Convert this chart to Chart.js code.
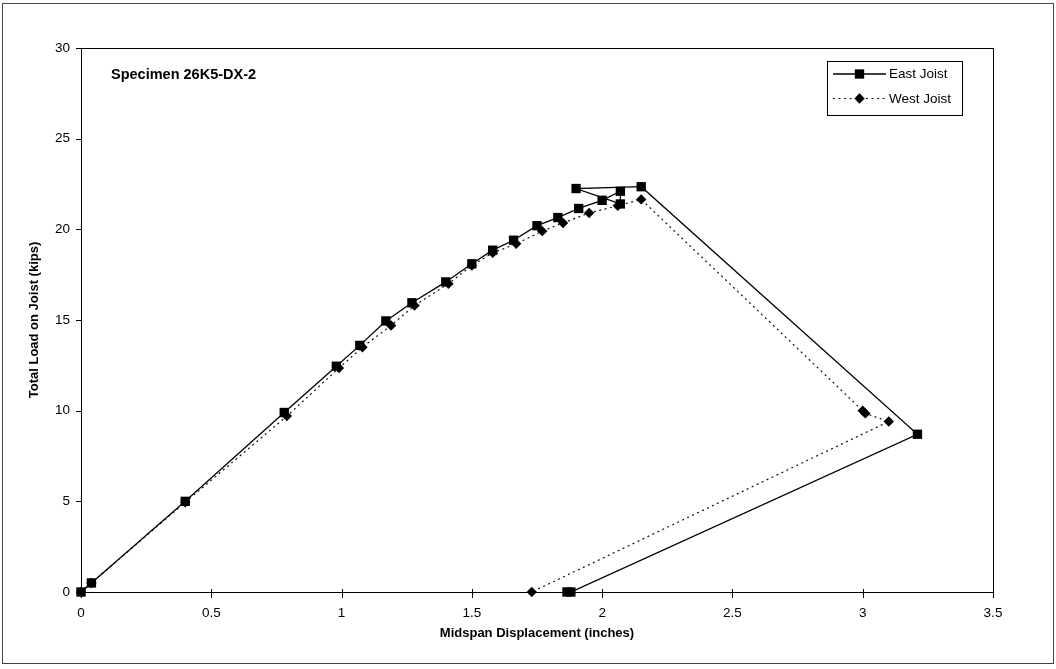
<!DOCTYPE html>
<html>
<head>
<meta charset="utf-8">
<script src="https://cdn.jsdelivr.net/npm/chart.js@4/dist/chart.umd.min.js"></script>
<style>
  html, body { margin: 0; padding: 0; background: #fff; }
  #wrap { position: relative; width: 1056px; height: 669px; }
</style>
</head>
<body>
<div id="wrap"><canvas id="c" width="1056" height="669"></canvas></div>
<script>
// Midspan displacement (in) vs. total load (kips), specimen 26K5-DX-2
const eastX = [0, 0.04, 0.40, 0.78, 0.98, 1.07, 1.17, 1.27, 1.40, 1.50, 1.58, 1.66, 1.75, 1.83, 1.91, 2.00, 2.07, 2.07, 1.90, 2.15, 3.21, 1.88, 1.865];
const eastY = [0, 0.5, 5.0, 9.9, 12.45, 13.6, 14.95, 15.95, 17.1, 18.1, 18.85, 19.4, 20.2, 20.65, 21.15, 21.6, 22.1, 21.4, 22.25, 22.35, 8.7, 0, 0];

const westX = [0, 0.04, 0.40, 0.79, 0.99, 1.08, 1.19, 1.28, 1.41, 1.50, 1.58, 1.67, 1.77, 1.85, 1.95, 2.06, 2.15, 3.00, 3.01, 3.10, 1.73];
const westY = [0, 0.5, 4.95, 9.7, 12.35, 13.5, 14.7, 15.8, 17.0, 18.0, 18.7, 19.2, 19.9, 20.35, 20.9, 21.3, 21.65, 10.0, 9.85, 9.4, 0];

const seriesNames = ['East Joist', 'West Joist'];
const xTicks = [0, 0.5, 1, 1.5, 2, 2.5, 3, 3.5];
const yTicks = [0, 5, 10, 15, 20, 25, 30];
const specimenLabel = 'Specimen 26K5-DX-2';
const xTitle = 'Midspan Displacement (inches)';
const yTitle = 'Total Load on Joist (kips)';

const FONT = "'Liberation Sans', Arial, sans-serif";
const toPoints = (xs, ys) => xs.map((x, i) => ({ x, y: ys[i] }));

function markerPath(ctx, style, x, y, r) {
  ctx.beginPath();
  if (style === 'rect') {
    const s = r * Math.SQRT1_2;
    ctx.rect(x - s, y - s, 2 * s, 2 * s);
  } else {
    ctx.moveTo(x, y - r); ctx.lineTo(x + r, y); ctx.lineTo(x, y + r); ctx.lineTo(x - r, y); ctx.closePath();
  }
  ctx.fill();
}

const frame = {
  id: 'frame',
  beforeDraw(chart) {
    const ctx = chart.ctx;
    ctx.save();
    ctx.fillStyle = '#fff';
    ctx.fillRect(0, 0, chart.width, chart.height);
    ctx.strokeStyle = '#444';
    ctx.lineWidth = 1;
    ctx.strokeRect(2.5, 3.5, 1051, 660);
    ctx.restore();
  },
  beforeDatasetsDraw(chart) {
    const { ctx, chartArea: a, scales: { x, y } } = chart;
    ctx.save();
    ctx.strokeStyle = '#000';
    ctx.lineWidth = 1;
    ctx.strokeRect(Math.round(a.left) + 0.5, Math.round(a.top) + 0.5,
                   Math.round(a.right - a.left), Math.round(a.bottom - a.top));
    ctx.beginPath();
    x.ticks.forEach(t => {
      const px = Math.round(x.getPixelForValue(t.value)) + 0.5;
      ctx.moveTo(px, a.bottom - 3); ctx.lineTo(px, a.bottom + 6);
    });
    y.ticks.forEach(t => {
      const py = Math.round(y.getPixelForValue(t.value)) + 0.5;
      ctx.moveTo(a.left - 5, py); ctx.lineTo(a.left, py);
    });
    ctx.stroke();
    ctx.restore();
  },
  afterDraw(chart) {
    const ctx = chart.ctx;
    ctx.save();
    // specimen label
    ctx.fillStyle = '#000';
    ctx.font = 'bold 14.5px ' + FONT;
    ctx.textBaseline = 'alphabetic';
    ctx.textAlign = 'left';
    ctx.fillText(specimenLabel, 111, 79);

    // legend
    ctx.fillStyle = '#fff';
    ctx.fillRect(827, 61, 136, 54);
    ctx.strokeStyle = '#000';
    ctx.lineWidth = 1;
    ctx.strokeRect(827.5, 61.5, 135, 54);
    chart.data.datasets.forEach((ds, i) => {
      const ly = 74 + i * 24.5;
      ctx.save();
      ctx.strokeStyle = ds.borderColor;
      ctx.lineWidth = ds.borderWidth;
      ctx.setLineDash(ds.borderDash || []);
      ctx.beginPath();
      ctx.moveTo(833, ly); ctx.lineTo(886, ly);
      ctx.stroke();
      ctx.restore();
      ctx.fillStyle = ds.pointBackgroundColor;
      markerPath(ctx, ds.pointStyle, 859.5, ly, ds.pointRadius);
      ctx.fillStyle = '#000';
      ctx.font = '13.5px ' + FONT;
      ctx.textBaseline = 'middle';
      ctx.fillText(ds.label, 889, ly + 0.5);
    });
    ctx.restore();
  }
};

new Chart(document.getElementById('c'), {
  type: 'line',
  data: {
    datasets: [
      {
        label: seriesNames[0],
        data: toPoints(eastX, eastY),
        borderColor: '#000',
        borderWidth: 1.3,
        pointStyle: 'rect',
        pointRadius: 6.6,
        pointBorderWidth: 0,
        pointBackgroundColor: '#000',
        tension: 0,
        clip: false
      },
      {
        label: seriesNames[1],
        data: toPoints(westX, westY),
        borderColor: '#111',
        borderWidth: 1.2,
        borderDash: [2, 3.5],
        pointStyle: 'rectRot',
        pointRadius: 5.2,
        pointBorderWidth: 0,
        pointBackgroundColor: '#000',
        tension: 0,
        clip: false
      }
    ]
  },
  options: {
    responsive: false,
    animation: false,
    events: [],
    devicePixelRatio: 1,
    layout: { padding: { left: 0, top: 48, right: 63, bottom: 0 } },
    plugins: { legend: { display: false }, tooltip: { enabled: false } },
    scales: {
      x: {
        type: 'linear',
        min: 0, max: 3.5,
        afterBuildTicks: s => { s.ticks = xTicks.map(v => ({ value: v })); },
        afterFit: s => { s.height = 77; },
        grid: { display: true, drawOnChartArea: false, drawTicks: true, tickLength: 6, color: 'rgba(0,0,0,0)' },
        border: { display: false },
        ticks: { color: '#000', padding: 7, font: { family: FONT, size: 13.5 }, maxRotation: 0,
                 callback: v => String(v) },
        title: { display: true, text: xTitle, color: '#000',
                 font: { family: FONT, size: 13, weight: 'bold' }, padding: { top: 0, bottom: 28 } }
      },
      y: {
        type: 'linear',
        min: 0, max: 30,
        afterBuildTicks: s => { s.ticks = yTicks.map(v => ({ value: v })); },
        afterFit: s => { s.width = 81; },
        grid: { display: true, drawOnChartArea: false, drawTicks: true, tickLength: 5, color: 'rgba(0,0,0,0)' },
        border: { display: false },
        ticks: { color: '#000', padding: 6, font: { family: FONT, size: 13.5 }, callback: v => String(v) },
        title: { display: true, text: yTitle, color: '#000',
                 font: { family: FONT, size: 13, weight: 'bold' }, padding: { top: 27, bottom: 0 } }
      }
    }
  },
  plugins: [frame]
});
</script>
</body>
</html>
